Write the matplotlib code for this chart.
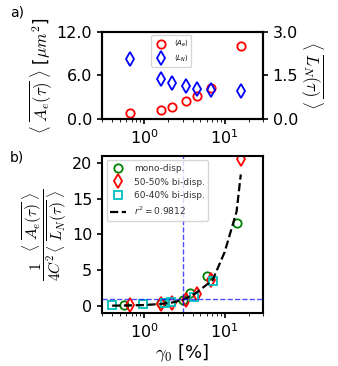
import numpy as np
import matplotlib
matplotlib.use("Agg")
import matplotlib.pyplot as plt

# panel a) 50-50% bi-disperse runs
gamma_a = [0.66, 1.61, 2.21, 3.3, 4.5, 6.75, 15.9]
area = [0.84, 1.30, 1.62, 2.41, 3.21, 4.27, 9.99]
length = [2.06, 1.37, 1.24, 1.14, 1.03, 1.01, 0.96]

# panel b) normalised ratio
gamma_mono = [0.56, 1.6, 3.0, 3.7, 6.0, 14.1]
ratio_mono = [0.1, 0.38, 0.85, 1.74, 4.13, 11.6]
gamma_5050 = [0.66, 1.61, 2.21, 3.3, 4.5, 6.75, 15.9]
ratio_5050 = [0.1, 0.28, 0.34, 0.8, 1.64, 3.6, 20.6]
gamma_6040 = [0.40, 0.97, 1.84, 2.13, 4.14, 7.1]
ratio_6040 = [0.1, 0.2, 0.34, 0.48, 1.18, 3.43]
fit_x = [0.40, 0.56, 0.97, 1.6, 2.2, 3.0, 4.3, 7.1, 10.0, 14.1, 15.9]
fit_y = [0.02, 0.04, 0.10, 0.25, 0.45, 0.8, 1.7, 3.6, 7.5, 13.2, 18.4]

plt.rcParams['font.size'] = 11.5

fig = plt.figure(figsize=(3.38, 3.66), dpi=100)
ax1 = fig.add_axes([0.302, 0.675, 0.476, 0.238])
ax1r = ax1.twinx()
ax2 = fig.add_axes([0.302, 0.145, 0.476, 0.429])

l1, = ax1.plot(gamma_a, area, 'o', mfc='none', mec='r', ms=6, mew=1.3, label=r'$\langle A_e \rangle$')
l2, = ax1r.plot(gamma_a, length, 'd', mfc='none', mec='b', ms=7, mew=1.3, label=r'$\langle L_N \rangle$')
ax1.set_xscale('log')
ax1.set_xlim(0.3, 30)
ax1.set_ylim(0, 12)
ax1.set_yticks([0, 6, 12])
ax1.set_yticklabels(['0.0', '6.0', '12.0'])
ax1r.set_ylim(0, 3)
ax1r.set_yticks([0, 1.5, 3])
ax1r.set_yticklabels(['0.0', '1.5', '3.0'])
ax1.set_ylabel(r'$\langle\ \overline{A_e(\tau)}\ \rangle$ [$\mu m^2$]', fontsize=12, labelpad=2,
               math_fontfamily='cm')
ax1r.set_ylabel(r'$\langle\ \overline{L_N(\tau)}\ \rangle$', fontsize=12, rotation=270, labelpad=20,
                math_fontfamily='cm')
ax1.legend(handles=[l1, l2], loc='upper center', fontsize=5, bbox_to_anchor=(0.43, 1.0))

ax2.plot(gamma_mono, ratio_mono, 'o', mfc='none', mec='g', ms=6, mew=1.3, label='mono-disp.')
ax2.plot(gamma_5050, ratio_5050, 'd', mfc='none', mec='r', ms=7, mew=1.3, label='50-50% bi-disp.')
ax2.plot(gamma_6040, ratio_6040, 's', mfc='none', mec='c', ms=6, mew=1.3, label='60-40% bi-disp.')
ax2.plot(fit_x, fit_y, 'k--', lw=1.6, label=r'$r^2 = 0.9812$')
ax2.axvline(3, color='b', ls='--', lw=1, alpha=0.7)
ax2.axhline(1, color='b', ls='--', lw=1, alpha=0.7)
ax2.set_xscale('log')
ax2.set_xlim(0.3, 30)
ax2.set_ylim(-1, 21)
ax2.set_yticks([0, 5, 10, 15, 20])
ax2.set_xlabel(r'$\gamma_0$ [%]', fontsize=13, labelpad=1, math_fontfamily='cm')
ax2.set_ylabel(r'$\dfrac{1}{4C^2}\dfrac{\langle\ \overline{A_e(\tau)}\ \rangle}{\langle\ \overline{L_N(\tau)}\ \rangle}$',
               fontsize=11, labelpad=2, math_fontfamily='cm')
ax2.legend(loc='upper left', fontsize=6.5, handlelength=1.8, labelcolor='#333333')

for ax in (ax1, ax1r, ax2):
    for s in ax.spines.values():
        s.set_linewidth(1.5)
    ax.tick_params(width=1.2)

fig.text(0.03, 0.955, 'a)', fontsize=10)
fig.text(0.03, 0.56, 'b)', fontsize=10)

fig.savefig('out.png', dpi=100)
